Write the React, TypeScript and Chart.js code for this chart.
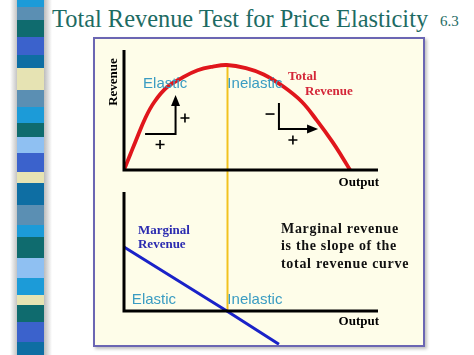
import React, { useEffect, useRef } from "react";
import { Chart, registerables } from "chart.js";

Chart.register(...registerables);

// ---- Data ----
// Output quantity (x) and Total Revenue (y) along the red curve
const TR_Q = [0, 0.25, 0.45, 0.85, 1.2, 1.7, 2.3, 2.9, 3.5, 4.05, 4.8, 5.5, 6.3, 7.0, 7.6, 8.2, 8.6, 8.9];
const TR_VAL = [0, 15, 27, 50, 65, 79, 88, 95, 98.5, 100, 97, 91, 79, 65, 47, 27, 12, 0];
// Marginal revenue (blue straight line)
const MR_Q = [0, 4.05, 6.1];
const MR_VAL = [50, 0, -26];
// Output where TR peaks / MR = 0 (yellow divider)
const PEAK_Q = 4.05;
const PEAK_TR = 100;

const TITLE = "Total Revenue Test for Price Elasticity";
const SLIDE_NO = "6.3";
const NOTE_LINES = ["Marginal revenue", "is the slope of the", "total revenue curve"];

// decorative strip: [color, top, bottom]
const STRIP: [string, number, number][] = [
  ["#1c9bd8", 0, 7], ["#5b8fb3", 7, 20], ["#0f6b6e", 20, 37], ["#3b62cc", 37, 55],
  ["#0e6ea3", 55, 68], ["#e6e3b3", 68, 90], ["#5b8fb3", 90, 107], ["#1c9bd8", 107, 123],
  ["#0f6b6e", 123, 137], ["#8fc0f2", 137, 153], ["#3b62cc", 153, 172], ["#e6e3b3", 172, 183],
  ["#0e6ea3", 183, 205], ["#5b8fb3", 205, 225], ["#1c9bd8", 225, 237], ["#0f6b6e", 237, 258],
  ["#8fc0f2", 258, 278], ["#1c9bd8", 278, 295], ["#e6e3b3", 295, 305], ["#0f6b6e", 305, 322],
  ["#3b62cc", 322, 342], ["#0e6ea3", 342, 355],
];

const SERIF = "'Liberation Serif', 'Times New Roman', serif";
const SANS = "'Liberation Sans', Arial, sans-serif";
const CYAN = "#3a9cc2";

const overlay = {
  id: "overlay",
  beforeDatasetsDraw(chart: any) {
    const ctx = chart.ctx;
    const x = chart.scales.x, yT = chart.scales.yTR, yM = chart.scales.yMR;
    ctx.save();
    ctx.strokeStyle = "#f2c21e";
    ctx.lineWidth = 2;
    ctx.beginPath();
    const px = Math.round(x.getPixelForValue(PEAK_Q)) + 0.5;
    ctx.moveTo(px, yT.getPixelForValue(PEAK_TR));
    ctx.lineTo(px, yM.getPixelForValue(0));
    ctx.stroke();
    ctx.restore();
  },
  afterDatasetsDraw(chart: any) {
    const ctx = chart.ctx;
    const x = chart.scales.x, yT = chart.scales.yTR, yM = chart.scales.yMR;
    const X = (v: number) => x.getPixelForValue(v);
    const T = (v: number) => yT.getPixelForValue(v);
    const M = (v: number) => yM.getPixelForValue(v);
    ctx.save();
    // axes
    ctx.strokeStyle = "#000";
    ctx.lineWidth = 3;
    ctx.lineCap = "butt";
    ctx.beginPath();
    ctx.moveTo(X(0), T(114.3));
    ctx.lineTo(X(0), T(0));
    ctx.lineTo(X(10), T(0));
    ctx.moveTo(X(0), M(93));
    ctx.lineTo(X(0), M(0));
    ctx.lineTo(X(10), M(0));
    ctx.stroke();

    // axis titles
    ctx.fillStyle = "#000";
    ctx.font = `bold 13px ${SERIF}`;
    ctx.textAlign = "right";
    ctx.textBaseline = "alphabetic";
    ctx.fillText("Output", X(10) + 1, T(0) + 16);
    ctx.fillText("Output", X(10) + 1, M(0) + 14);
    ctx.save();
    ctx.translate(X(0) - 10.5, T(83.8));
    ctx.rotate(-Math.PI / 2);
    ctx.textAlign = "center";
    ctx.textBaseline = "middle";
    ctx.fillText("Revenue", 0, 0);
    ctx.restore();

    // Elastic / Inelastic labels
    ctx.font = `15px ${SANS}`;
    ctx.fillStyle = CYAN;
    ctx.textAlign = "left";
    ctx.textBaseline = "middle";
    ctx.fillText("Elastic", X(0.75), T(82.4));
    ctx.fillText("Inelastic", X(PEAK_Q) + 0.5, T(82.4));
    ctx.fillText("Elastic", X(0.31), M(8.6));
    ctx.fillText("Inelastic", X(PEAK_Q) + 0.5, M(8.6));

    // Total Revenue label
    ctx.font = `bold 13px ${SERIF}`;
    ctx.fillStyle = "#d42638";
    ctx.fillText("Total", X(6.46), T(88.6));
    ctx.fillText("Revenue", X(7.13), T(74.3));

    // Marginal Revenue label
    ctx.fillStyle = "#2b2bb0";
    ctx.fillText("Marginal", X(0.55), M(62.5));
    ctx.fillText("Revenue", X(0.55), M(51.6));

    // note
    ctx.fillStyle = "#111";
    ctx.font = `bold 14px ${SERIF}`;
    ctx.textBaseline = "alphabetic";
    (ctx as any).letterSpacing = "0.7px";
    const noteY = [60.9, 47.3, 33.6];
    NOTE_LINES.forEach((s, i) => ctx.fillText(s, X(6.18), M(noteY[i])));
    (ctx as any).letterSpacing = "0px";

    // arrows
    ctx.strokeStyle = "#000";
    ctx.fillStyle = "#000";
    ctx.lineWidth = 2;
    // left group: right then up
    const lcx = X(2.03), lcy = T(34.3);
    ctx.beginPath();
    ctx.moveTo(X(0.83), lcy);
    ctx.lineTo(lcx, lcy);
    ctx.lineTo(lcx, T(71.4) + 8);
    ctx.stroke();
    ctx.beginPath();
    ctx.moveTo(lcx, T(71.4));
    ctx.lineTo(lcx - 4.5, T(71.4) + 11);
    ctx.lineTo(lcx + 4.5, T(71.4) + 11);
    ctx.closePath();
    ctx.fill();
    // right group: down then right
    const rcx = X(6.1), rcy = T(39);
    ctx.beginPath();
    ctx.moveTo(rcx, T(63.8));
    ctx.lineTo(rcx, rcy);
    ctx.lineTo(X(7.64) - 8, rcy);
    ctx.stroke();
    ctx.beginPath();
    ctx.moveTo(X(7.64), rcy);
    ctx.lineTo(X(7.64) - 11, rcy - 4.5);
    ctx.lineTo(X(7.64) - 11, rcy + 4.5);
    ctx.closePath();
    ctx.fill();

    // signs
    const plus = (cx: number, cy: number) => {
      ctx.beginPath();
      ctx.moveTo(cx - 4.5, cy);
      ctx.lineTo(cx + 4.5, cy);
      ctx.moveTo(cx, cy - 4.5);
      ctx.lineTo(cx, cy + 4.5);
      ctx.stroke();
    };
    ctx.lineWidth = 1.6;
    plus(X(2.4), T(49.5));
    plus(X(1.42), T(24.3));
    plus(X(6.65), T(28.6));
    ctx.beginPath();
    ctx.moveTo(X(5.75) - 4.5, T(53.3));
    ctx.lineTo(X(5.75) + 4.5, T(53.3));
    ctx.stroke();
    ctx.restore();
  },
};

function RevenueChart() {
  const ref = useRef<HTMLCanvasElement | null>(null);
  useEffect(() => {
    if (!ref.current) return;
    const chart = new Chart(ref.current, {
      type: "line",
      data: {
        datasets: [
          {
            label: "Total Revenue",
            data: TR_Q.map((q, i) => ({ x: q, y: TR_VAL[i] })),
            yAxisID: "yTR",
            borderColor: "#e0161c",
            borderWidth: 3.8,
            pointRadius: 0,
            tension: 0.4,
            fill: false,
          },
          {
            label: "Marginal Revenue",
            data: MR_Q.map((q, i) => ({ x: q, y: MR_VAL[i] })),
            yAxisID: "yMR",
            borderColor: "#1a22c8",
            borderWidth: 3,
            pointRadius: 0,
            tension: 0,
            clip: false as any,
            fill: false,
          },
        ],
      } as any,
      options: {
        responsive: false,
        devicePixelRatio: 1,
        animation: false,
        layout: { padding: { left: 29, right: 45, top: 11, bottom: 34 } },
        plugins: { legend: { display: false }, tooltip: { enabled: false } },
        scales: {
          x: { type: "linear", min: 0, max: 10, display: false },
          yTR: { type: "linear", min: -134.3, max: 114.3, display: false },
          yMR: { type: "linear", min: 0, max: 203.9, display: false },
        },
      } as any,
      plugins: [overlay],
    });
    return () => chart.destroy();
  }, []);
  return <canvas ref={ref} width={328} height={306} style={{ display: "block" }} />;
}

export default function App() {
  return (
    <div style={{ position: "fixed", left: 0, top: 0, width: 474, height: 355, background: "#fff", overflow: "hidden" }}>
      <div
        style={{
          position: "absolute", left: 10, top: 0, width: 42, height: 355,
          background: "linear-gradient(to right, #fff, #a8a8a8 25%, #8e8e8e 50%, #a8a8a8 75%, #fff)",
        }}
      />
      {STRIP.map(([c, t, b], i) => (
        <div key={i} style={{ position: "absolute", left: 17, top: t, width: 27, height: b - t, background: c }} />
      ))}
      <div
        style={{
          position: "absolute", left: 52, top: 6, fontFamily: SERIF, fontSize: 24.4, lineHeight: "25px",
          color: "#1d6b63", whiteSpace: "nowrap",
        }}
      >
        {TITLE}
      </div>
      <div
        style={{
          position: "absolute", left: 440, top: 14, fontFamily: SERIF, fontSize: 15, lineHeight: "15px",
          color: "#1d6b63", whiteSpace: "nowrap",
        }}
      >
        {SLIDE_NO}
      </div>
      <div
        style={{
          position: "absolute", left: 93, top: 37, width: 328, height: 306,
          border: "2px solid #6b66b3", background: "#fefde9",
          boxShadow: "2px 2px 3px rgba(0,0,0,0.25)",
        }}
      >
        <RevenueChart />
      </div>
    </div>
  );
}
